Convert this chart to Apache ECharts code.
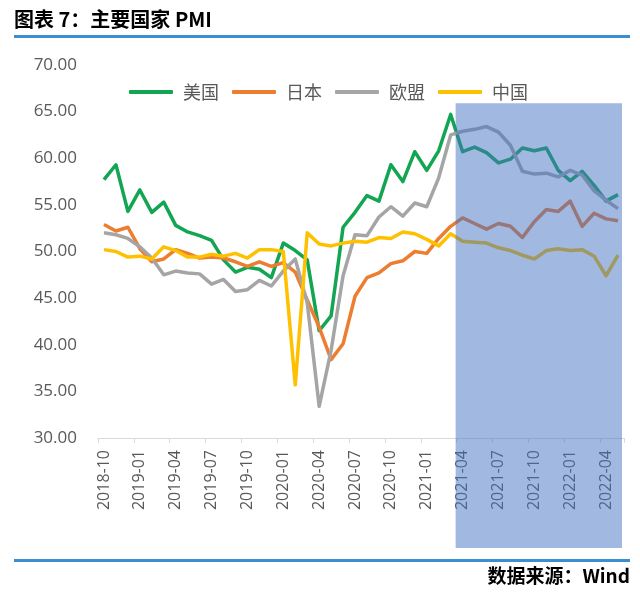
<!DOCTYPE html>
<html>
<head>
<meta charset="utf-8">
<script src="https://cdn.jsdelivr.net/npm/echarts@6/dist/echarts.min.js"></script>
<style>html,body{margin:0;padding:0;background:#fff;}#c{width:640px;height:596px;}</style>
</head>
<body>
<div id="c"></div>
<script>
const categories = [
 '2018-10','2018-11','2018-12','2019-01','2019-02','2019-03','2019-04','2019-05','2019-06','2019-07','2019-08','2019-09','2019-10','2019-11','2019-12',
 '2020-01','2020-02','2020-03','2020-04','2020-05','2020-06','2020-07','2020-08','2020-09','2020-10','2020-11','2020-12',
 '2021-01','2021-02','2021-03','2021-04','2021-05','2021-06','2021-07','2021-08','2021-09','2021-10','2021-11','2021-12',
 '2022-01','2022-02','2022-03','2022-04','2022-05'];
const usa = [57.7,59.3,54.3,56.6,54.2,55.3,52.8,52.1,51.7,51.2,49.1,47.8,48.3,48.1,47.2,50.9,50.1,49.1,41.5,43.1,52.6,54.2,56.0,55.4,59.3,57.5,60.7,58.7,60.8,64.7,60.7,61.2,60.6,59.5,59.9,61.1,60.8,61.1,58.7,57.6,58.6,57.1,55.4,56.1];
const japan = [52.9,52.2,52.6,50.3,48.9,49.2,50.2,49.8,49.3,49.4,49.3,48.9,48.4,48.9,48.4,48.8,47.8,44.8,41.9,38.4,40.1,45.2,47.2,47.7,48.7,49.0,50.0,49.8,51.4,52.7,53.6,53.0,52.4,53.0,52.7,51.5,53.2,54.5,54.3,55.4,52.7,54.1,53.5,53.3];
const euro = [52.0,51.8,51.4,50.5,49.3,47.5,47.9,47.7,47.6,46.5,47.0,45.7,45.9,46.9,46.3,47.9,49.2,44.5,33.4,39.4,47.4,51.8,51.7,53.7,54.8,53.8,55.2,54.8,57.9,62.5,62.9,63.1,63.4,62.8,61.4,58.6,58.3,58.4,58.0,58.7,58.2,56.5,55.5,54.6];
const china = [50.2,50.0,49.4,49.5,49.2,50.5,50.1,49.4,49.4,49.7,49.5,49.8,49.3,50.2,50.2,50.0,35.7,52.0,50.8,50.6,50.9,51.1,51.0,51.5,51.4,52.1,51.9,51.3,50.6,51.9,51.1,51.0,50.9,50.4,50.1,49.6,49.2,50.1,50.3,50.1,50.2,49.5,47.4,49.6];
const seriesNames = ['美国','日本','欧盟','中国'];
const seriesColors = ['#12a552','#ed7d31','#a5a5a5','#ffc000'];
const highlightStart = '2021-04';

(function () {
const chart = echarts.init(document.getElementById('c'));
const dataSets = [usa, japan, euro, china];
const axisFont = 'Open Sans, Noto Sans, sans-serif';

const option = {
  animation: false,
  grid: {left: 98, right: 16, top: 65, bottom: 158, containLabel: false},
  legend: {
    left: 124, top: 78, itemWidth: 44, itemHeight: 4, itemGap: 13, icon: 'roundRect',
    textStyle: {fontSize: 18, color: '#595959', padding: [0,0,0,5], fontFamily: 'Noto Sans CJK SC'},
    data: seriesNames
  },
  xAxis: {
    type: 'category', data: categories, boundaryGap: true,
    axisLine: {lineStyle: {color: '#d9d9d9', width: 1}},
    axisTick: {show: true, interval: 2, length: 5, lineStyle: {color: '#d9d9d9'}},
    axisLabel: {interval: 2, rotate: 90, fontSize: 16, color: '#595959', margin: 12, fontFamily: axisFont}
  },
  yAxis: {
    type: 'value', min: 30, max: 70, interval: 5,
    axisLine: {show: false}, axisTick: {show: false}, splitLine: {show: false},
    axisLabel: {formatter: v => v.toFixed(2), fontSize: 17, color: '#595959', margin: 21, fontFamily: axisFont}
  },
  series: seriesNames.map((n, i) => ({
    name: n, type: 'line', data: dataSets[i], symbol: 'none',
    lineStyle: {width: 3.5, color: seriesColors[i], join: 'round'},
    itemStyle: {color: seriesColors[i]}, z: 2
  }))
};
chart.setOption(option);

const i0 = categories.indexOf(highlightStart);
const xa = chart.convertToPixel({xAxisIndex: 0}, categories[i0]);
const xb = chart.convertToPixel({xAxisIndex: 0}, categories[i0 + 1]);
const band = xb - xa;
const rLeft = xa - band / 2 - 1;
const rRight = 640 - 16 - 2;
const rTop = chart.convertToPixel({yAxisIndex: 0}, 65.9);

chart.setOption({
  graphic: [
    {type: 'text', left: 14, top: 9, style: {text: '图表 7：主要国家 PMI', fontSize: 20, fontWeight: 'bold', fill: '#000', fontFamily: 'Noto Sans CJK SC'}},
    {type: 'rect', shape: {x: 14, y: 35, width: 616, height: 3}, style: {fill: '#3a8fd2'}},
    {type: 'rect', z: 100, shape: {x: rLeft, y: rTop, width: rRight - rLeft, height: 548 - rTop}, style: {fill: 'rgba(68,114,196,0.5)'}},
    {type: 'rect', shape: {x: 14, y: 559, width: 616, height: 3}, style: {fill: '#3a8fd2'}},
    {type: 'text', right: 10, top: 566, style: {text: '数据来源：Wind', fontSize: 19, fontWeight: 'bold', fill: '#000', fontFamily: 'Noto Sans CJK SC'}}
  ]
});
})();
</script>
</body>
</html>
